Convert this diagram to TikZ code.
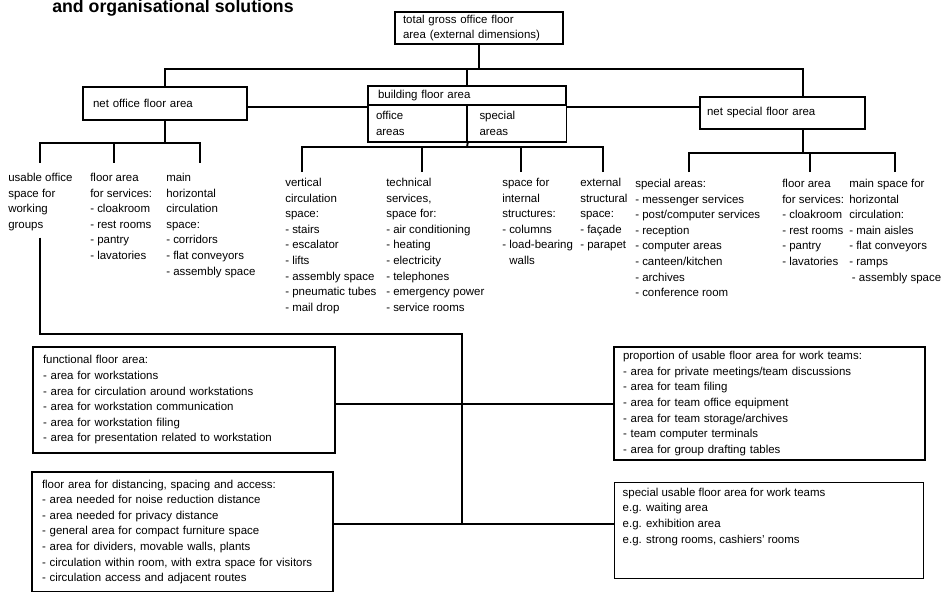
\documentclass[tikz,border=0pt]{standalone}
\usepackage{fontspec}
\setmainfont{Liberation Sans}
\usepackage{tikz}

\begin{document}
\begin{tikzpicture}[x=0.75pt, y=-0.75pt,
    font=\fontsize{8.6}{11.7}\selectfont,
    box/.style={draw, line width=1.1pt, align=left, inner ysep=0pt},
    col/.style={align=left, inner sep=0pt, anchor=north west},
    conn/.style={line width=1.4pt}]
    \useasboundingbox (0,0) rectangle (947,592);

    % Title
    \node[anchor=base west, inner sep=0pt, font=\bfseries\fontsize{13.3}{15}\selectfont] (title) at (52,12.5) {and organisational solutions};

    % Upper boxes
    \node[box, text width=114pt, inner xsep=6pt, minimum height=24pt] (total) at (479,28) {total gross office floor\\area (external dimensions)};
    \node[box, text width=108pt, inner xsep=7.5pt, minimum height=24.75pt] (netoffice) at (165,103.5) {net office floor area};
    \node[box, text width=133.5pt, inner xsep=7.5pt, minimum height=14.25pt] (bldg) at (467,95.5) {building floor area};
    \node[box, text width=62.25pt, inner xsep=6pt, minimum height=27.75pt] (offarea) at (417.5,123.5) {office\\areas};
    \node[box, text width=55.5pt, inner xsep=9.75pt, minimum height=27.75pt] (specarea) at (516.5,123.5) {special\\areas};
    \node[box, text width=113.25pt, inner xsep=5.25pt, minimum height=24pt] (netspecial) at (782.5,113) {net special floor area};

    % Columns of floor area types
    \node[col] (usable) at (8,173) {usable office\\space for\\working\\groups};
    \node[col] (services) at (90,173) {floor area\\for services:\\- cloakroom\\- rest rooms\\- pantry\\- lavatories};
    \node[col] (mainhoriz) at (166,173) {main\\horizontal\\circulation\\space:\\- corridors\\- flat conveyors\\- assembly space};
    \node[col] (vcirc) at (285,178) {vertical\\circulation\\space:\\- stairs\\- escalator\\- lifts\\- assembly space\\- pneumatic tubes\\- mail drop};
    \node[col] (tech) at (386,178) {technical\\services,\\space for:\\- air conditioning\\- heating\\- electricity\\- telephones\\- emergency power\\- service rooms};
    \node[col] (internal) at (502,178) {space for\\internal\\structures:\\- columns\\- load-bearing\\\hspace*{5.4pt}walls};
    \node[col] (external) at (580,178) {external\\structural\\space:\\- façade\\- parapet};
    \node[col] (special) at (635,179) {special areas:\\- messenger services\\- post/computer services\\- reception\\- computer areas\\- canteen/kitchen\\- archives\\- conference room};
    \node[col] (services2) at (782,179) {floor area\\for services:\\- cloakroom\\- rest rooms\\- pantry\\- lavatories};
    \node[col] (mainspace) at (849,179) {main space for\\horizontal\\circulation:\\- main aisles\\- flat conveyors\\- ramps\\\hspace*{2pt}- assembly space};

    % Lower boxes
    \node[box, text width=211.5pt, inner xsep=7.5pt, minimum height=79.5pt] (functional) at (184,400) {functional floor area:\\- area for workstations\\- area for circulation around workstations\\- area for workstation communication\\- area for workstation filing\\- area for presentation related to workstation};
    \node[box, text width=219.75pt, inner xsep=6.75pt, minimum height=84.75pt] (proportion) at (769.5,403.5) {proportion of usable floor area for work teams:\\- area for private meetings/team discussions\\- area for team filing\\- area for team office equipment\\- area for team storage/archives\\- team computer terminals\\- area for group drafting tables};
    \node[box, text width=210.75pt, inner xsep=7.5pt, minimum height=90pt] (distancing) at (182.5,532) {floor area for distancing, spacing and access:\\- area needed for noise reduction distance\\- area needed for privacy distance\\- general area for compact furniture space\\- area for dividers, movable walls, plants\\- circulation within room, with extra space for visitors\\- circulation access and adjacent routes};
    \node[box, inner xsep=6pt, inner ysep=4pt, anchor=north west] (specialuse) at (614,482) {\parbox[t][64pt][t]{219.75pt}{special usable floor area for work teams\\e.g. waiting area\\e.g. exhibition area\\e.g. strong rooms, cashiers’ rooms}};

    % Junctions
    \coordinate (tbus) at (479,69);
    \coordinate (lbus) at (165,143);
    \coordinate (mbus) at (467,147);
    \coordinate (rbus) at (803,153);
    \coordinate (ftrunk) at (462,334);
    \coordinate (fa) at (462,404);
    \coordinate (fb) at (462,524);

    % Top level links
    \draw[conn] (total.south) -- (tbus);
    \draw[conn] (netoffice.north) |- (tbus);
    \draw[conn] (bldg.north) |- (tbus);
    \draw[conn] (rbus |- netspecial.north) |- (tbus);
    \draw[conn] ([yshift=-2.6pt]netoffice.east) -- ([yshift=-2.6pt]netoffice.east -| offarea.west);
    \draw[conn] ([yshift=4.5pt]netspecial.west) -- ([yshift=4.5pt]netspecial.west -| specarea.east);

    % Net office floor area
    \draw[conn] (netoffice.south) -- (lbus);
    \draw[conn] ([xshift=24pt, yshift=7.5pt]usable.north west) |- (lbus);
    \draw[conn] ([xshift=18pt, yshift=7.5pt]services.north west) |- (lbus);
    \draw[conn] ([xshift=25.5pt, yshift=7.5pt]mainhoriz.north west) |- (lbus);

    % Building floor area
    \draw[conn] (offarea.south east) -- (mbus);
    \draw[conn] ([xshift=12.75pt, yshift=4.5pt]vcirc.north west) |- (mbus);
    \draw[conn] ([xshift=27pt, yshift=4.5pt]tech.north west) |- (mbus);
    \draw[conn] ([xshift=14.25pt, yshift=4.5pt]internal.north west) |- (mbus);
    \draw[conn] ([xshift=17.25pt, yshift=4.5pt]external.north west) |- (mbus);

    % Net special floor area
    \draw[conn] (rbus |- netspecial.south) -- (rbus);
    \draw[conn] ([xshift=40.5pt, yshift=5.25pt]special.north west) |- (rbus);
    \draw[conn] ([xshift=21pt, yshift=5.25pt]services2.north west) |- (rbus);
    \draw[conn] ([xshift=34.5pt, yshift=5.25pt]mainspace.north west) |- (rbus);

    % Usable office space split
    \draw[conn] ([yshift=-5pt]usable.south) |- (ftrunk) -- (fb);
    \draw[conn] (functional.east |- fa) -- (proportion.west |- fa);
    \draw[conn] (distancing.east |- fb) -- (specialuse.west |- fb);
\end{tikzpicture}
\end{document}
